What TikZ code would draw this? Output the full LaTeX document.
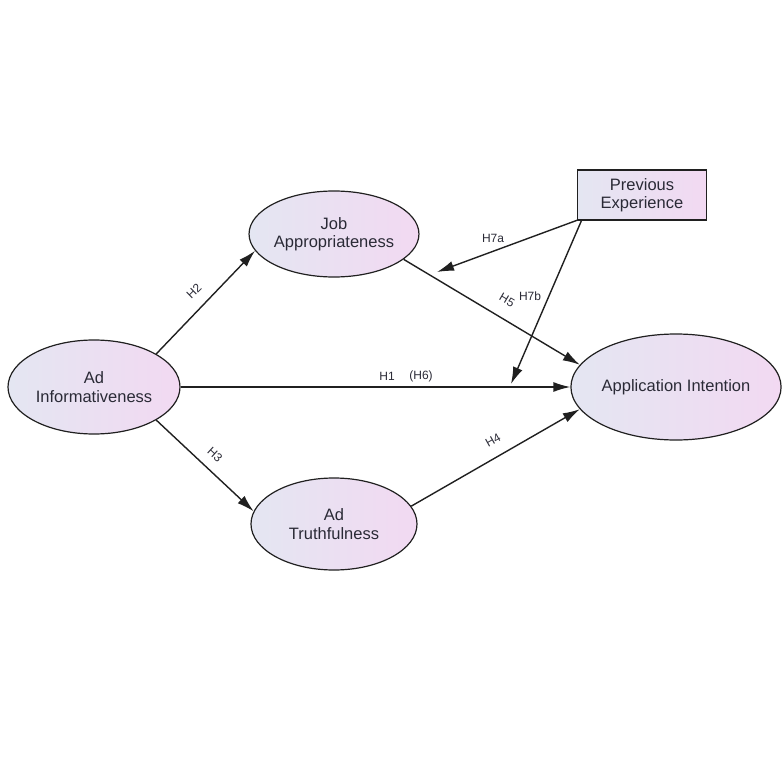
\documentclass[tikz,border=0pt]{standalone}
\usepackage{fontspec}
\setmainfont{Liberation Sans}
\usetikzlibrary{shapes.geometric,arrows.meta}
\definecolor{gL}{HTML}{E4E6F2}
\definecolor{gR}{HTML}{F2D9F2}
\definecolor{txt}{HTML}{2A2A36}
\definecolor{ln}{HTML}{202020}
\tikzset{
  construct/.style={ellipse, draw=ln, line width=1.2pt, left color=gL, right color=gR,
    inner sep=0pt, align=center, text=txt,
    font=\fontsize{16.5}{18.5}\selectfont},
  boxnode/.style={rectangle, draw=ln, line width=1.2pt, left color=gL, right color=gR,
    inner sep=0pt, align=center, text=txt,
    font=\fontsize{16.5}{18.5}\selectfont},
  path/.style={draw=ln, line width=1.4pt, -{Latex[length=17pt,width=10pt]}},
  hlab/.style={text=txt, font=\fontsize{12}{13}\selectfont, inner sep=0pt}
}
\begin{document}
\begin{tikzpicture}[x=1pt,y=-1pt]
\useasboundingbox (0,0) rectangle (783,783);
\node[construct, minimum width=172pt, minimum height=94pt] (ai) at (94,387) {Ad\\Informativeness};
\node[construct, minimum width=154pt, minimum height=86pt] (ja) at (334,234) {Job\\Appropriateness};
\node[construct, minimum width=166pt, minimum height=92pt] (at) at (334,524) {Ad\\Truthfulness};
\node[construct, minimum width=184pt, minimum height=106pt] (ain) at (676,387) {Application Intention};
\node[boxnode, minimum width=129pt, minimum height=50pt] (pe) at (642,195) {Previous\\Experience};
\coordinate (h7aend) at (437,272);
\coordinate (h7bend) at (511,384);
\draw[path] (ai.28.7) -- (ja.192);
\draw[path] (ai.-28.7) -- (at.171);
\draw[path] (ai.east) -- (ain.west);
\draw[path] (at.13.4) -- (ain.193);
\draw[path] (ja.-20.7) -- (ain.167);
\draw[path] ([xshift=2pt,yshift=1pt]pe.south west) -- (h7aend);
\draw[path] ([xshift=5pt,yshift=1pt]pe.south west) -- (h7bend);
\node[hlab, rotate=44.4] (l2) at (194,291) {H2};
\node[hlab, rotate=-42.6] (l3) at (215,455) {H3};
\node[hlab, rotate=29.3] (l4) at (493,440) {H4};
\node[hlab, rotate=-30.4] (l5) at (507,300) {H5};
\node[hlab] (l1) at (387,376) {H1};
\node[hlab] (l6) at (421,376) {(H6)};
\node[hlab] (l7a) at (493,238) {H7a};
\node[hlab] (l7b) at (530,296) {H7b};
\end{tikzpicture}
\end{document}
